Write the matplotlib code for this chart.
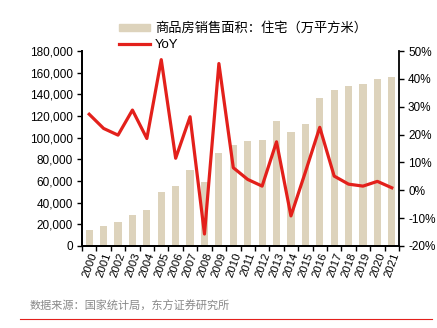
import matplotlib.pyplot as plt
import matplotlib.ticker as mticker
from matplotlib.lines import Line2D
from matplotlib.patches import Patch

plt.rcParams['font.family'] = ['Liberation Sans', 'Noto Sans CJK SC', 'DejaVu Sans']

years = [str(y) for y in range(2000, 2022)]
area = [14700, 18400, 21800, 28300, 33500, 49500, 55000, 69800, 59000, 86000,
        93100, 96800, 98000, 115200, 104800, 112200, 137000, 144400, 147500,
        150000, 154600, 156400]
yoy = [27.3, 22.2, 19.8, 28.8, 18.6, 46.9, 11.5, 26.4, -15.7, 45.5,
       8.1, 3.9, 1.5, 17.4, -9.2, 6.5, 22.6, 5.1, 2.2, 1.5, 3.2, 0.9]

bar_label = "商品房销售面积：住宅（万平方米）"
line_label = "YoY"
source = "数据来源：国家统计局，东方证券研究所"

bar_color = "#DDD3BC"
red = "#E3201B"

fig = plt.figure(figsize=(4.37, 3.28), dpi=100)
ax = fig.add_axes([82 / 437, 1 - 246 / 328, (399 - 82) / 437, (246 - 51) / 328])
x = list(range(len(years)))
ax.bar(x, area, width=0.5, color=bar_color, zorder=1)
ax.set_xlim(-0.5, len(years) - 0.5)
ax.set_ylim(0, 180000)
ax.yaxis.set_major_locator(mticker.MultipleLocator(20000))
ax.yaxis.set_major_formatter(mticker.StrMethodFormatter("{x:,.0f}"))

ax2 = ax.twinx()
ax2.plot(x, yoy, color=red, lw=2.3, zorder=3)
ax2.set_ylim(-20, 50)
ax2.yaxis.set_major_locator(mticker.MultipleLocator(10))
ax2.yaxis.set_major_formatter(mticker.FuncFormatter(lambda v, p: f"{v:.0f}%"))

# ticks sit on category boundaries, labels under bars
ax.set_xticks(x)
ax.set_xticklabels(years, rotation=70, ha='right', rotation_mode='anchor', fontsize=8.2)
ax.tick_params(axis='x', length=0, pad=4)
ax.set_xticks([i - 0.5 for i in range(len(years) + 1)], minor=True)
ax.tick_params(axis='x', which='minor', length=3.5, width=1, direction='out')
ax.tick_params(axis='y', length=3.5, width=1, labelsize=8.5, pad=3)
ax2.tick_params(axis='y', length=3.5, width=1, labelsize=8.5, pad=3)

for a in (ax, ax2):
    a.spines['top'].set_visible(False)
    for s in ('left', 'right', 'bottom'):
        a.spines[s].set_linewidth(1.3)
ax.spines['right'].set_visible(False)

handles = [Patch(color=bar_color), Line2D([], [], color=red, lw=2.3)]
fig.legend(handles, [bar_label, line_label], loc='upper left',
           bbox_to_anchor=(114 / 437, 1 - 17 / 328), frameon=False,
           fontsize=9.5, handlelength=2.3, handleheight=0.5, labelspacing=0.3,
           handletextpad=0.4, borderaxespad=0)

fig.text(30 / 437, 1 - 306 / 328, source, color="#888888", fontsize=8,
         va='center', family=['Noto Sans CJK SC', 'DejaVu Sans'])
fig.add_artist(Line2D([20 / 437, 432 / 437], [1 - 319 / 328] * 2, color=red, lw=0.8))

fig.savefig("out.png", dpi=100)
